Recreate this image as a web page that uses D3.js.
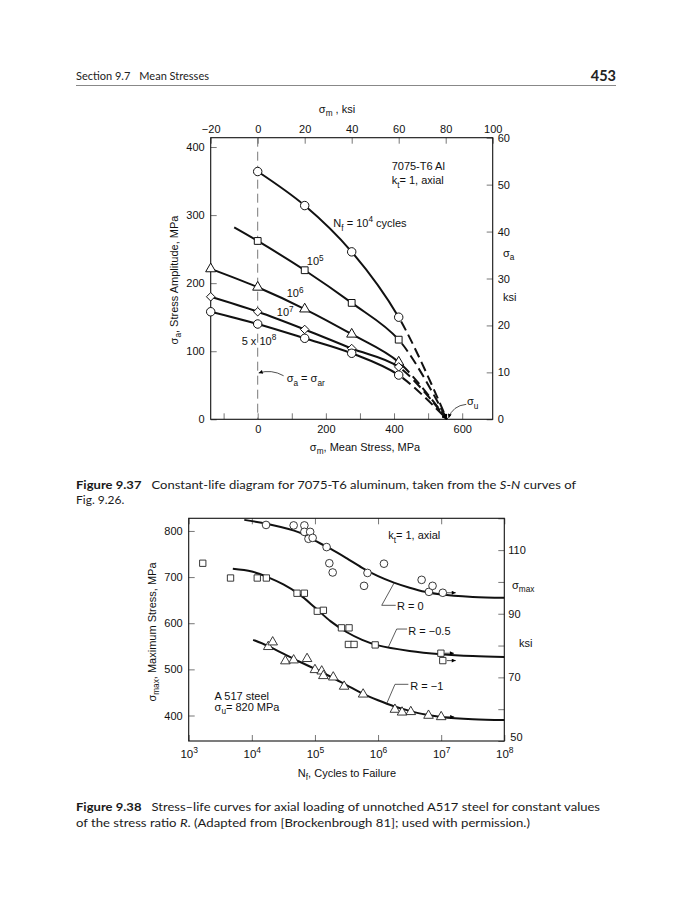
<!DOCTYPE html>
<html><head><meta charset="utf-8">
<script src="https://cdn.jsdelivr.net/npm/d3@7/dist/d3.min.js"></script>
<style>body{margin:0;background:#fff}</style>
</head><body>
<svg id="c" width="690" height="900"></svg>
<script>
const KSI = 6.895; // MPa per ksi

// ---------- Figure 9.37 data (constant-life diagram, 7075-T6 Al) ----------
const sigmaU = 555;                       // MPa, intercept on σm axis
const n1e4_ksi = [0, 20, 40, 60];          const n1e4_amp = [364, 314, 246, 150];
const n1e5_ksi = [-10, 0, 20, 40, 60];     const n1e5_amp = [282, 262, 219, 171, 117]; // first point = line start (no marker)
const n1e6_ksi = [-20, 0, 20, 40, 60];     const n1e6_amp = [221, 194, 162, 125, 84];
const n1e7_ksi = [-20, 0, 20, 40, 60];     const n1e7_amp = [180, 158, 132, 104, 77];
const n5e8_ksi = [-20, 0, 20, 40, 60];     const n5e8_amp = [158, 140, 119, 97, 65];
const topMeanMPaTicks = [-100, 0, 100, 200, 300, 400, 500, 600];
const topMeanMPaLabels = [0, 200, 400, 600];
const topMeanKsiTicks = [-20, 0, 20, 40, 60, 80, 100];
const topAmpMPaTicks = [0, 100, 200, 300, 400];
const topAmpKsiTicks = [0, 10, 20, 30, 40, 50, 60];

// ---------- Figure 9.38 data (S-N curves, A517 steel) ----------
const r0_N = [1.68e4,4.6e4,6.8e4,6.8e4,8.4e4,7.9e4,9.2e4,1.53e5,1.69e5,1.91e5,6.0e5,6.8e5,1.24e6,4.9e6,6.4e6,7.3e6,1.06e7];
const r0_S = [813,812,812,798,798,783,785,765,730,710,681,709,729,694,668,681,666];
const r0_runout = [16];
const r05_N = [1.67e3,4.6e3,1.22e4,1.7e4,5.2e4,6.8e4,1.09e5,1.36e5,2.63e5,3.47e5,3.39e5,4.17e5,9.0e5,9.9e6,1.06e7];
const r05_S = [730,698,698,698,665,665,626,628,590,590,554,554,553,535,519];
const r05_runout = [13, 14];
const r1_N = [1.82e4,2.14e4,3.4e4,4.6e4,7.5e4,1.0e5,1.28e5,1.36e5,1.95e5,2.9e5,5.8e5,1.85e6,2.4e6,3.3e6,6.3e6,1.0e7];
const r1_S = [549,559,518,520,523,499,496,486,483,463,446,413,407,408,400,397];
const r1_runout = [15];
const r0_curveN  = [7.6e3,1.78e4,5.6e4,1e5,1.78e5,3.16e5,5.6e5,1e6,1.78e6,3.16e6,5.6e6,1e7,3.16e7,1e8];
const r0_curveS  = [824,815,797,779,761,741,720,702,688,677,668,662,657,655];
const r05_curveN = [5.0e3,1e4,1.78e4,3.16e4,5.6e4,1e5,1.78e5,3.16e5,5.6e5,1e6,3.16e6,1e7,3.16e7,1e8];
const r05_curveS = [718,712,700,684,663,634,604,581,564,552,540,533,529,527];
const r1_curveN  = [1.05e4,1.78e4,3.16e4,5.6e4,1e5,1.78e5,3.16e5,5.6e5,1e6,1.78e6,3.16e6,5.6e6,1e7,3.16e7,1e8];
const r1_curveS  = [564,551,534,517,501,484,466,448,433,420,410,402,397,392,390];
const cycTicks = [1e3, 1e4, 1e5, 1e6, 1e7, 1e8];
const smaxMPaTicks = [400, 500, 600, 700, 800];
const smaxKsiTicks = [50, 60, 70, 80, 90, 100, 110, 120];
const smaxKsiLabels = [50, 70, 90, 110];

// ---------- text ----------
const headerLeft = ["Section 9.7", "Mean Stresses"], pageNo = "453";
const cap37 = [[["Figure 9.37","b"],["   Constant-life diagram for 7075-T6 aluminum, taken from the "],["S-N","i"],[" curves of"]],[["Fig. 9.26."]]];
const cap38 = [[["Figure 9.38","b"],["   Stress\u2013life curves for axial loading of unnotched A517 steel for constant values"]],
               [["of the stress ratio "],["R","i"],[". (Adapted from [Brockenbrough 81]; used with permission.)"]]];

const FONT = "'Liberation Sans', Arial, Helvetica, sans-serif";
const CAPFONT = "Lato, 'Open Sans', sans-serif";
const svg = d3.select("#c");
svg.append("rect").attr("width",690).attr("height",900).attr("fill","#fff");
const defs = svg.append("defs");
function arrowDef(id, w, h){
  defs.append("marker").attr("id",id).attr("viewBox","0 0 10 10").attr("refX",10).attr("refY",5)
    .attr("markerWidth",w).attr("markerHeight",h).attr("markerUnits","userSpaceOnUse").attr("orient","auto")
    .append("path").attr("d","M0,0L10,5L0,10z").attr("fill","#000");
}
arrowDef("arrowBig", 10, 5); arrowDef("arrowSmall", 6, 4);

// rich text helper: parts = [text, kind] kind: n, sub, sup
function rich(sel, parts, fs){
  let cur = 0;
  parts.forEach(p => {
    const [t, k] = typeof p === "string" ? [p, "n"] : p;
    const target = k === "sub" ? fs*0.32 : k === "sup" ? -fs*0.42 : 0;
    sel.append("tspan").attr("dy", (target-cur).toFixed(2)).attr("font-size", k === "n" ? fs : fs*0.75).text(t);
    cur = target;
  });
  return sel;
}
function label(g, x, y, parts, opts={}){
  const fs = opts.fs || 11;
  const t = g.append("text").attr("x",x).attr("y",y+fs*0.35).attr("font-family",FONT).attr("font-size",fs)
    .attr("fill","#111").attr("text-anchor",opts.anchor||"start");
  if (opts.rotate) t.attr("transform",`rotate(-90,${x},${y})`).attr("y", y+fs*0.35);
  return rich(t, parts, fs);
}
function styleAxis(g){
  g.select(".domain").remove();
  g.attr("font-family",FONT).attr("font-size",11);
  g.selectAll(".tick line").attr("stroke","#777").attr("stroke-width",1);
  g.selectAll(".tick text").attr("fill","#111");
}

// ---------- header ----------
const hdr = svg.append("text").attr("x",76).attr("y",80).attr("font-family",CAPFONT).attr("font-size",11).attr("fill","#222");
hdr.append("tspan").text(headerLeft[0]);
hdr.append("tspan").attr("dx",9).text(headerLeft[1]);
svg.append("text").attr("x",616).attr("y",81).attr("text-anchor","end").attr("font-family",CAPFONT)
  .attr("font-size",14.5).attr("font-weight","bold").attr("fill","#222").text(pageNo);
svg.append("line").attr("x1",76).attr("x2",616).attr("y1",85.5).attr("y2",85.5).attr("stroke","#888").attr("stroke-width",1);

function caption(lines, x, y0, lh, widths){
  lines.forEach((ln, i) => {
    const t = svg.append("text").attr("x",x).attr("y",y0+i*lh).attr("font-family",CAPFONT).attr("font-size",12)
      .attr("fill","#1a1a1a").attr("xml:space","preserve");
    ln.forEach(([s,k]) => {
      const ts = t.append("tspan").text(s);
      if (k === "b") ts.attr("font-weight","bold");
      if (k === "i") ts.attr("font-style","italic");
    });
    if (widths[i]) t.attr("textLength", widths[i]).attr("lengthAdjust","spacingAndGlyphs");
  });
}

// ================= TOP CHART =================
const T = {l:210.7, r:492.7, t:137.7, b:419.3};
const xT = d3.scaleLinear().domain([-20*KSI, 100*KSI]).range([T.l, T.r]);
const yT = d3.scaleLinear().domain([0, 60*KSI]).range([T.b, T.t]);
const xTk = d3.scaleLinear().domain([-20, 100]).range([T.l, T.r]);
const yTk = d3.scaleLinear().domain([0, 60]).range([T.b, T.t]);
const gT = svg.append("g");

styleAxis(gT.append("g").attr("transform",`translate(0,${T.b})`)
  .call(d3.axisBottom(xT).tickValues(topMeanMPaTicks).tickSizeInner(-6).tickSizeOuter(0).tickPadding(6)
    .tickFormat(d => topMeanMPaLabels.includes(d) ? d : "")));
styleAxis(gT.append("g").attr("transform",`translate(0,${T.t})`)
  .call(d3.axisTop(xTk).tickValues(topMeanKsiTicks).tickSizeInner(-6).tickSizeOuter(0).tickPadding(5)));
styleAxis(gT.append("g").attr("transform",`translate(${T.l},0)`)
  .call(d3.axisLeft(yT).tickValues(topAmpMPaTicks).tickSizeInner(-6).tickSizeOuter(0).tickPadding(6)));
styleAxis(gT.append("g").attr("transform",`translate(${T.r},0)`)
  .call(d3.axisRight(yTk).tickValues(topAmpKsiTicks).tickSizeInner(-6).tickSizeOuter(0).tickPadding(5)));
gT.append("rect").attr("x",T.l).attr("y",T.t).attr("width",T.r-T.l).attr("height",T.b-T.t)
  .attr("fill","none").attr("stroke","#111").attr("stroke-width",1.1);

// σm = 0 reference line
gT.append("line").attr("x1",xT(0)).attr("x2",xT(0)).attr("y1",T.t).attr("y2",T.b)
  .attr("stroke","#555").attr("stroke-width",0.8).attr("stroke-dasharray","9 5");

const lineT = d3.line().x(d => xT(d[0])).y(d => yT(d[1])).curve(d3.curveCatmullRom.alpha(0.5));
const topSeries = [
  {k:n1e4_ksi, a:n1e4_amp, sym:d3.symbolCircle, size:56, skip:0},
  {k:n1e5_ksi, a:n1e5_amp, sym:d3.symbolSquare, size:46, skip:1},
  {k:n1e6_ksi, a:n1e6_amp, sym:d3.symbolTriangle, size:44, skip:0},
  {k:n1e7_ksi, a:n1e7_amp, sym:d3.symbolDiamond2, size:46, skip:0},
  {k:n5e8_ksi, a:n5e8_amp, sym:d3.symbolCircle, size:56, skip:0},
];
function lengthAtX(node, xt){
  let lo = 0, hi = node.getTotalLength();
  for (let i = 0; i < 40; i++){ const m = (lo+hi)/2; if (node.getPointAtLength(m).x < xt) lo = m; else hi = m; }
  return lo;
}
topSeries.forEach(s => {
  const pts = s.k.map((v,i) => [v*KSI, s.a[i]]);
  const full = pts.concat([[sigmaU, 0]]);
  const d = lineT(full);
  const solid = gT.append("path").attr("d", d).attr("fill","none").attr("stroke","#111").attr("stroke-width",2);
  const node = solid.node();
  const L = node.getTotalLength();
  const L1 = lengthAtX(node, xT(pts[pts.length-1][0]));
  solid.attr("stroke-dasharray", `${L1} ${L+10}`);
  const arr = [0, L1 + 5];
  let acc = L1 + 5;
  while (acc < L) { arr.push(10, 5); acc += 15; }
  arr.push(L + 50);
  gT.append("path").attr("d", d).attr("fill","none").attr("stroke","#111").attr("stroke-width",2)
    .attr("stroke-dasharray", arr.join(" ")).attr("marker-end","url(#arrowBig)");
  gT.selectAll(null).data(pts.slice(s.skip)).join("path")
    .attr("transform", p => `translate(${xT(p[0])},${yT(p[1])})`)
    .attr("d", d3.symbol().type(s.sym).size(s.size)())
    .attr("fill","#fff").attr("stroke","#111").attr("stroke-width",1);
});

// top chart labels
label(gT, 337, 109, ["\u03c3",["m","sub"]," , ksi"], {anchor:"middle"});
label(gT, 365, 447, ["\u03c3",["m","sub"],", Mean Stress, MPa"], {anchor:"middle"});
label(gT, 174, 280, ["\u03c3",["a","sub"],", Stress Amplitude, MPa"], {anchor:"middle", rotate:true});
label(gT, 503, 253, ["\u03c3",["a","sub"]]);
label(gT, 503, 297, ["ksi"]);
label(gT, xT(393), yT(372), ["7075-T6 Al"]);
label(gT, xT(393), yT(351), ["k",["t","sub"],"= 1, axial"]);
label(gT, xT(222), yT(288), ["N",["f","sub"]," = 10",["4","sup"]," cycles"]);
label(gT, xT(144), yT(232), ["10",["5","sup"]]);
label(gT, xT(85), yT(185), ["10",["6","sup"]]);
label(gT, xT(56), yT(157), ["10",["7","sup"]]);
label(gT, xT(-47), yT(115), ["5 x 10",["8","sup"]]);
label(gT, xT(85), yT(60), ["\u03c3",["a","sub"]," = \u03c3",["ar","sub"]]);
label(gT, xT(614), yT(26), ["\u03c3",["u","sub"]]);
// leaders
const lp1 = d3.path(); lp1.moveTo(xT(76), yT(64)); lp1.quadraticCurveTo(xT(40), yT(74), xT(3), yT(68));
gT.append("path").attr("d", lp1.toString()).attr("fill","none").attr("stroke","#222").attr("stroke-width",0.8).attr("marker-end","url(#arrowSmall)");
const lp2 = d3.path(); lp2.moveTo(xT(612), yT(22)); lp2.quadraticCurveTo(xT(572), yT(20), xT(560), yT(2));
gT.append("path").attr("d", lp2.toString()).attr("fill","none").attr("stroke","#222").attr("stroke-width",0.8).attr("marker-end","url(#arrowSmall)");

caption(cap37, 76, 489, 15, [500, 0]);

// ================= BOTTOM CHART =================
const B = {l:188.7, r:504.3, t:518.3, b:741};
const xB = d3.scaleLog().domain([1e3, 1e8]).range([B.l, B.r]);
const yB = d3.scaleLinear().domain([50*KSI, 120*KSI]).range([B.b, B.t]);
const yBk = d3.scaleLinear().domain([50, 120]).range([B.b, B.t]);
const gB = svg.append("g");

const axB = gB.append("g").attr("transform",`translate(0,${B.b})`)
  .call(d3.axisBottom(xB).tickValues(cycTicks).tickSizeInner(-6).tickSizeOuter(0).tickPadding(9).tickFormat(""));
styleAxis(axB);
axB.selectAll(".tick text").each(function(d){
  const t = d3.select(this).attr("font-size",11.5);
  t.append("tspan").text("10");
  t.append("tspan").attr("dy",-5).attr("font-size",8.5).text(Math.round(Math.log10(d)));
});
styleAxis(gB.append("g").attr("transform",`translate(0,${B.t})`)
  .call(d3.axisTop(xB).tickValues(cycTicks).tickSizeInner(-6).tickSizeOuter(0).tickFormat("")));
styleAxis(gB.append("g").attr("transform",`translate(${B.l},0)`)
  .call(d3.axisLeft(yB).tickValues(smaxMPaTicks).tickSizeInner(-6).tickSizeOuter(0).tickPadding(6)));
const axBR = gB.append("g").attr("transform",`translate(${B.r},0)`)
  .call(d3.axisRight(yBk).tickValues(smaxKsiTicks).tickSizeInner(-6).tickSizeOuter(0).tickPadding(4)
    .tickFormat(d => smaxKsiLabels.includes(d) ? d : ""));
styleAxis(axBR);
axBR.selectAll(".tick text").filter(d => d === 50).attr("dy","-0.05em").attr("x", 6);
gB.append("rect").attr("x",B.l).attr("y",B.t).attr("width",B.r-B.l).attr("height",B.b-B.t)
  .attr("fill","none").attr("stroke","#111").attr("stroke-width",1.1);

const lineB = d3.line().x(d => xB(d[0])).y(d => yB(d[1])).curve(d3.curveCatmullRom.alpha(0.5));
const botSeries = [
  {cN:r0_curveN, cS:r0_curveS, N:r0_N, S:r0_S, run:r0_runout, sym:d3.symbolCircle, size:46},
  {cN:r05_curveN, cS:r05_curveS, N:r05_N, S:r05_S, run:r05_runout, sym:d3.symbolSquare, size:40},
  {cN:r1_curveN, cS:r1_curveS, N:r1_N, S:r1_S, run:r1_runout, sym:d3.symbolTriangle, size:40},
];
botSeries.forEach(s => {
  gB.append("path").attr("d", lineB(s.cN.map((n,i) => [n, s.cS[i]])))
    .attr("fill","none").attr("stroke","#111").attr("stroke-width",2);
  const pts = s.N.map((n,i) => ({n, s:s.S[i], run:s.run.includes(i)}));
  gB.selectAll(null).data(pts.filter(p => p.run)).join("line")
    .attr("x1", p => xB(p.n)+4).attr("x2", p => xB(p.n)+13)
    .attr("y1", p => yB(p.s)).attr("y2", p => yB(p.s))
    .attr("stroke","#222").attr("stroke-width",0.8).attr("marker-end","url(#arrowSmall)");
  gB.selectAll(null).data(pts).join("path")
    .attr("transform", p => `translate(${xB(p.n)},${yB(p.s)})`)
    .attr("d", d3.symbol().type(s.sym).size(s.size)())
    .attr("fill","#fff").attr("stroke","#222").attr("stroke-width",0.9);
});

label(gB, 152, 632, ["\u03c3",["max","sub"],", Maximum Stress, MPa"], {anchor:"middle", rotate:true});
label(gB, 347, 773, ["N",["f","sub"],", Cycles to Failure"], {anchor:"middle"});
label(gB, 512, 585, ["\u03c3",["max","sub"]]);
label(gB, 519, 643, ["ksi"]);
label(gB, xB(10**6.16), yB(790), ["k",["t","sub"],"= 1, axial"]);
label(gB, xB(10**3.41), yB(442), ["A 517 steel"]);
label(gB, xB(10**3.41), yB(419), ["\u03c3",["u","sub"],"= 820 MPa"]);
label(gB, xB(10**6.30), yB(636), ["R = 0"]);
label(gB, xB(10**6.48), yB(583), ["R = \u22120.5"]);
label(gB, xB(10**6.51), yB(464), ["R = \u22121"]);
// leaders (curve point -> elbow -> text)
const leaders = [
  [[10**6.257, 688], [10**6.058, 638.8], [10**6.28, 638.8]],
  [[10**6.162, 548], [10**6.295, 587.4], [10**6.46, 587.4]],
  [[10**6.137, 426], [10**6.268, 467.6], [10**6.48, 467.6]],
];
const leaderLine = d3.line().x(d => xB(d[0])).y(d => yB(d[1]));
leaders.forEach(l => {
  gB.append("path").attr("d", leaderLine(l))
    .attr("fill","none").attr("stroke","#333").attr("stroke-width",0.8);
});

caption(cap38, 76, 811, 16, [524, 454]);
</script>
</body></html>
